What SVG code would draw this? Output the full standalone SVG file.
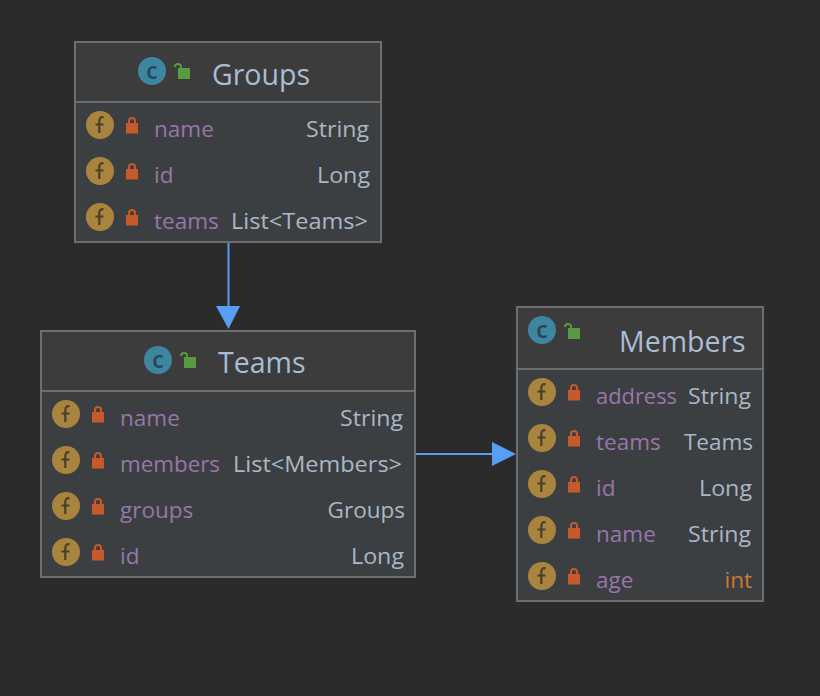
<svg xmlns="http://www.w3.org/2000/svg" width="820" height="696" viewBox="0 0 820 696">
<style>
text{font-family:"Open Sans","Noto Sans","Liberation Sans",sans-serif}
.box{fill:#3c3f41;stroke:#6e6e6e;stroke-width:2}
.head{fill:#3c3c3c}
.sep{stroke:#6e6e6e;stroke-width:2}
.title{font-size:28.500px;fill:#a9bdd5}
.fn{font-size:22.500px;fill:#9876aa}
.ty{font-size:22.500px;fill:#a9b7c6;text-anchor:end}
.prim{fill:#cc7832}
.ic2{font-size:23px;font-weight:600;fill:#26475a;text-anchor:middle}
.conn{stroke:#589df6;stroke-width:2;fill:none}
.head-a{fill:#589df6}
</style>
<defs>
<g id="f"><circle cx="14" cy="14" r="14" fill="#a9843f"/><path d="M17.500 6.500C15 5.500 13.300 7 13.300 10V22M9.500 13.500H17.500" fill="none" stroke="#4a3f27" stroke-width="2.200"/></g>
<g id="l"><rect x="0" y="6" width="12" height="10.500" fill="#c75a2b"/><path d="M3 7V4A3 3 0 0 1 9 4V7" fill="none" stroke="#c75a2b" stroke-width="2"/></g>
<g id="c"><circle cx="14" cy="14" r="14" fill="#3e86a0"/></g>
<g id="o"><rect x="4" y="6" width="12" height="11" fill="#5a9a42"/><path d="M1 5A3 3 0 0 1 7 5V7" fill="none" stroke="#5a9a42" stroke-width="2"/></g>
</defs>
<rect width="820" height="696" fill="#2b2b2b"/>
<g id="connectors">
<path class="conn" d="M228.500 243V307"/>
<polygon class="head-a" points="216,306 240,306 228.500,329"/>
<path class="conn" d="M416 454H493"/>
<polygon class="head-a" points="492,442 492,466 516,454"/>
</g>
<g id="groups">
<rect class="box" x="75" y="42" width="306" height="200"/>
<rect class="head" x="76" y="43" width="304" height="59"/>
<line class="sep" x1="75" y1="102" x2="381" y2="102"/>
<use href="#c" x="138" y="57"/><text class="ic2" x="152" y="79">c</text>
<use href="#o" x="174" y="62"/>
<text class="title" x="212" y="85">Groups</text>
<use href="#f" x="86" y="111"/><use href="#l" x="126" y="117"/><text class="fn" x="154" y="137">name</text><text class="ty" x="369" y="137" textLength="63" lengthAdjust="spacingAndGlyphs">String</text>
<use href="#f" x="86" y="157"/><use href="#l" x="126" y="163"/><text class="fn" x="154" y="183">id</text><text class="ty" x="370" y="183" textLength="53" lengthAdjust="spacingAndGlyphs">Long</text>
<use href="#f" x="86" y="203"/><use href="#l" x="126" y="209"/><text class="fn" x="154" y="229">teams</text><text class="ty" x="368" y="229" textLength="137" lengthAdjust="spacingAndGlyphs">List&lt;Teams&gt;</text>
</g>
<g id="teams">
<rect class="box" x="41" y="331" width="374" height="246"/>
<rect class="head" x="42" y="332" width="372" height="59"/>
<line class="sep" x1="41" y1="391" x2="415" y2="391"/>
<use href="#c" x="144" y="346"/><text class="ic2" x="158" y="368">c</text>
<use href="#o" x="180" y="351"/>
<text class="title" x="218" y="373">Teams</text>
<use href="#f" x="52" y="400"/><use href="#l" x="92" y="406"/><text class="fn" x="120" y="426">name</text><text class="ty" x="403" y="426" textLength="63" lengthAdjust="spacingAndGlyphs">String</text>
<use href="#f" x="52" y="446"/><use href="#l" x="92" y="452"/><text class="fn" x="120" y="472" textLength="100" lengthAdjust="spacingAndGlyphs">members</text><text class="ty" x="402" y="472" textLength="169" lengthAdjust="spacingAndGlyphs">List&lt;Members&gt;</text>
<use href="#f" x="52" y="492"/><use href="#l" x="92" y="498"/><text class="fn" x="120" y="518">groups</text><text class="ty" x="405" y="518">Groups</text>
<use href="#f" x="52" y="538"/><use href="#l" x="92" y="544"/><text class="fn" x="120" y="564">id</text><text class="ty" x="404" y="564" textLength="53" lengthAdjust="spacingAndGlyphs">Long</text>
</g>
<g id="members">
<rect class="box" x="517" y="307" width="246" height="294"/>
<rect class="head" x="518" y="308" width="244" height="61"/>
<line class="sep" x1="517" y1="369" x2="763" y2="369"/>
<use href="#c" x="528" y="316"/><text class="ic2" x="542" y="338">c</text>
<use href="#o" x="564" y="322"/>
<text class="title" x="619" y="352">Members</text>
<use href="#f" x="528" y="378"/><use href="#l" x="568" y="384"/><text class="fn" x="596" y="404" textLength="81" lengthAdjust="spacingAndGlyphs">address</text><text class="ty" x="751" y="404" textLength="63" lengthAdjust="spacingAndGlyphs">String</text>
<use href="#f" x="528" y="424"/><use href="#l" x="568" y="430"/><text class="fn" x="596" y="450">teams</text><text class="ty" x="753" y="450">Teams</text>
<use href="#f" x="528" y="470"/><use href="#l" x="568" y="476"/><text class="fn" x="596" y="496">id</text><text class="ty" x="752" y="496" textLength="53" lengthAdjust="spacingAndGlyphs">Long</text>
<use href="#f" x="528" y="516"/><use href="#l" x="568" y="522"/><text class="fn" x="596" y="542">name</text><text class="ty" x="751" y="542" textLength="63" lengthAdjust="spacingAndGlyphs">String</text>
<use href="#f" x="528" y="562"/><use href="#l" x="568" y="568"/><text class="fn" x="596" y="588">age</text><text class="ty prim" x="752" y="588">int</text>
</g>
</svg>
